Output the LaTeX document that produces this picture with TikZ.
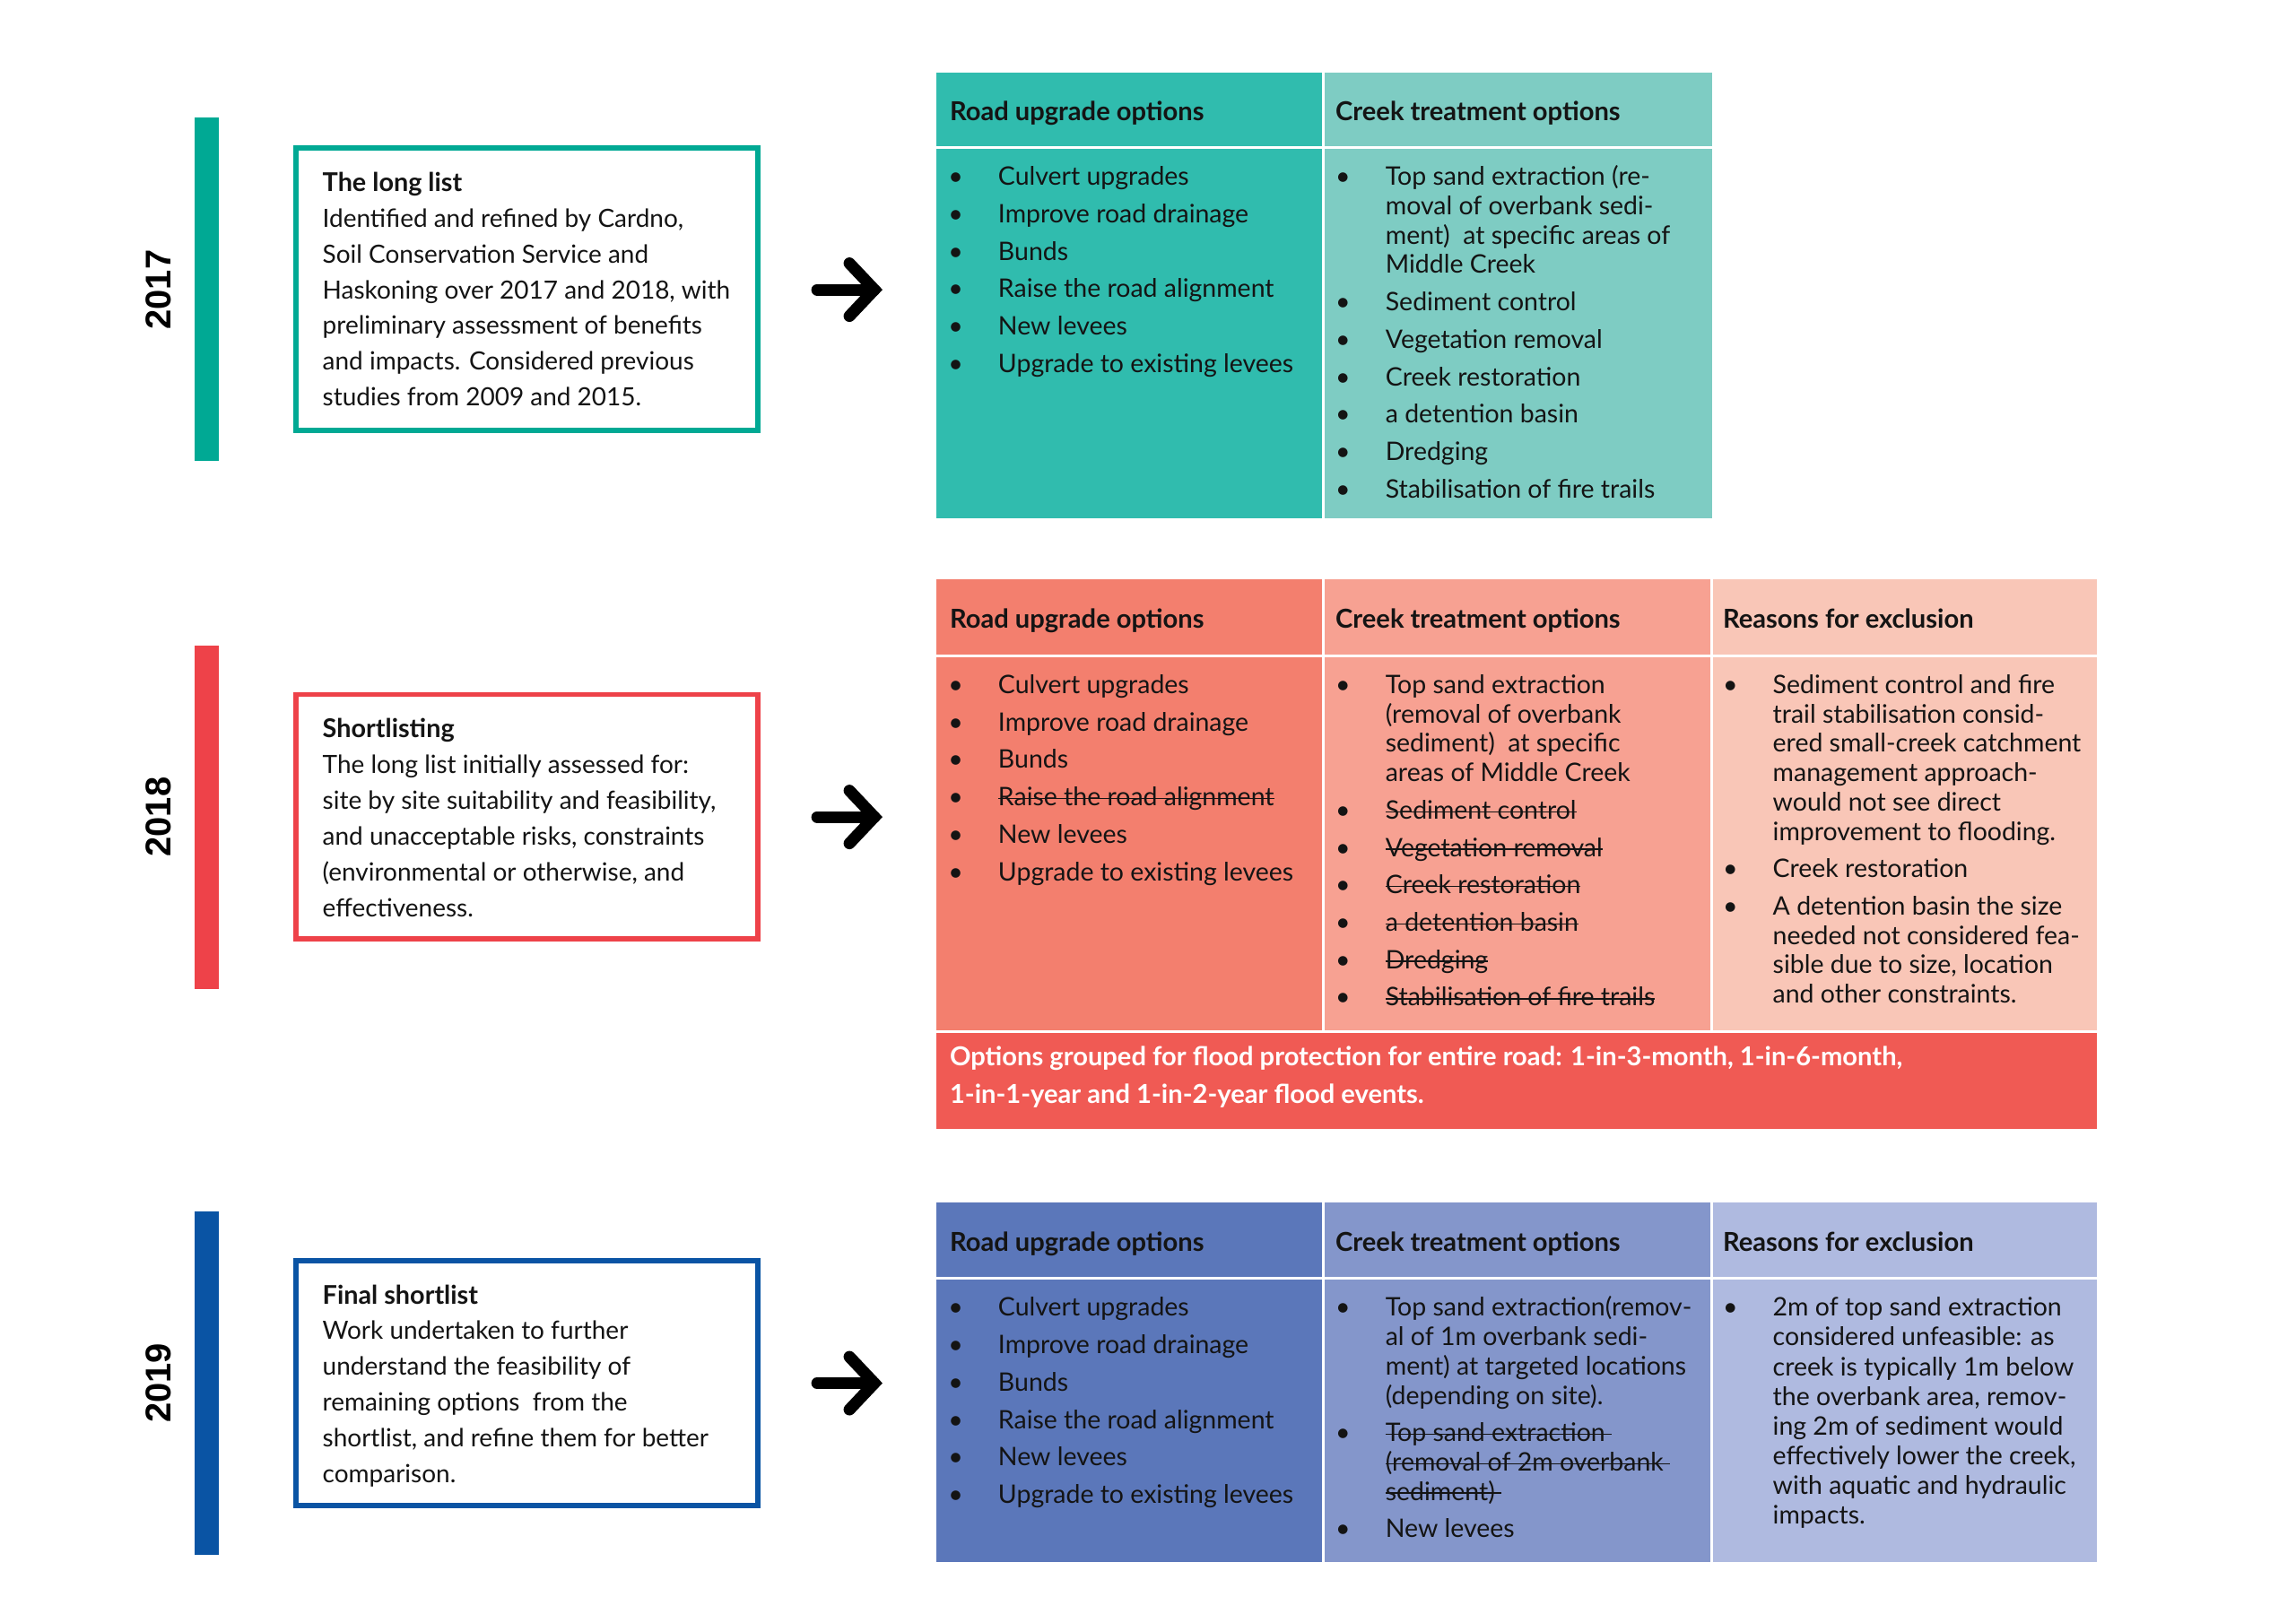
\documentclass[tikz,border=0pt]{standalone}
\usepackage{fontspec}
\setmainfont{Lato}
\newfontfamily\yearfont{Liberation Sans}

\definecolor{teal17}{HTML}{00A994}
\definecolor{road17}{HTML}{30BCAE}
\definecolor{creek17}{HTML}{7ECCC3}
\definecolor{red18}{HTML}{EE4249}
\definecolor{road18}{HTML}{F37F6E}
\definecolor{creek18}{HTML}{F7A192}
\definecolor{excl18}{HTML}{F9C6B7}
\definecolor{band18}{HTML}{F05A54}
\definecolor{blue19}{HTML}{0A54A4}
\definecolor{road19}{HTML}{5B77BA}
\definecolor{creek19}{HTML}{8496CB}
\definecolor{excl19}{HTML}{AFBAE0}
\definecolor{ink}{HTML}{141414}

\newcommand{\bul}{\makebox[17pt][l]{\textbullet}}
\newcommand{\ind}{\hspace*{17pt}}
\newcommand{\colstrut}{\rule{0pt}{8pt}}
\newcommand{\nextopt}{\\[2.75pt]}
\newcommand{\struck}[1]{\leavevmode\setbox0\hbox{#1}\rlap{\rule[0.26em]{\wd0}{0.45pt}}\box0}
\newcommand{\stagetitle}[1]{{\bfseries\fontsize{8.8}{12.2}\selectfont #1}}

\tikzset{
  optlist/.style={anchor=north west, inner sep=0pt, align=left, text=ink,
    font=\fontsize{8.7}{10}\selectfont},
  boxtext/.style={anchor=north west, inner sep=0pt, align=left, text=ink,
    font=\fontsize{8.55}{12.2}\selectfont},
  colhead/.style={anchor=base west, inner sep=0pt, text=ink,
    font=\bfseries\fontsize{8.9}{10}\selectfont},
  yearlabel/.style={rotate=90, inner sep=0pt, text=black,
    font=\yearfont\bfseries\fontsize{12.2}{14}\selectfont},
  stagebox/.style={draw=#1, line width=1.8pt, fill=white, inner sep=0pt,
    outer sep=0pt, anchor=north west, minimum width=157.5pt},
  bigarrow/.style={line width=4pt, line cap=round, line join=miter}
}

\begin{document}
\begin{tikzpicture}[x=0.5pt,y=-0.5pt]
\useasboundingbox (0,0) rectangle (1565,1106);

% ---- 2017 ----
\fill[teal17] (132.5,80) rectangle (149,314);
\node[yearlabel] (y17) at (108,197.5) {2017};
\node[stagebox=teal17, minimum height=96.25pt] (box17) at (201.5,101) {};
\node[boxtext] (t17) at (219.5,114) {\colstrut\stagetitle{The long list}\\
  Identified and refined by Cardno,\\
  Soil Conservation Service and\\
  Haskoning over 2017 and 2018, with\\
  preliminary assessment of benefits\\
  and impacts. Considered previous\\
  studies from 2009 and 2015.};
\coordinate (s17) at (557,197.5);
\coordinate (e17) at (596,197.5);
\draw[bigarrow] (s17) -- (e17);
\draw[bigarrow] (e17) ++(-17,-18) -- (e17) -- ++(-17,18);

\fill[road17] (638,49.5) rectangle (901,99.5);
\fill[creek17] (903,49.5) rectangle (1167,99.5);
\fill[road17] (638,101.5) rectangle (901,353.5);
\fill[creek17] (903,101.5) rectangle (1167,353.5);
\node[colhead] (h17r) at (647,82.5) {Road upgrade options};
\node[colhead] (h17c) at (910,82.5) {Creek treatment options};
\node[optlist] (l17r) at (646,110) {\colstrut\bul Culvert upgrades\nextopt
  \bul Improve road drainage\nextopt
  \bul Bunds\nextopt
  \bul Raise the road alignment\nextopt
  \bul New levees\nextopt
  \bul Upgrade to existing levees};
\node[optlist] (l17c) at (910,110) {\colstrut\bul Top sand extraction (re-\\
  \ind moval of overbank sedi-\\
  \ind ment)\ \ at specific areas of\\
  \ind Middle Creek\nextopt
  \bul Sediment control\nextopt
  \bul Vegetation removal\nextopt
  \bul Creek restoration\nextopt
  \bul a detention basin\nextopt
  \bul Dredging\nextopt
  \bul Stabilisation of fire trails};

% ---- 2018 ----
\fill[red18] (132.5,440) rectangle (149,674);
\node[yearlabel] (y18) at (108,557) {2018};
\node[stagebox=red18, minimum height=83.25pt] (box18) at (201.5,473.5) {};
\node[boxtext] (t18) at (219.5,486.5) {\colstrut\stagetitle{Shortlisting}\\
  The long list initially assessed for:\\
  site by site suitability and feasibility,\\
  and unacceptable risks, constraints\\
  (environmental or otherwise, and\\
  effectiveness.};
\coordinate (s18) at (557,557);
\coordinate (e18) at (596,557);
\draw[bigarrow] (s18) -- (e18);
\draw[bigarrow] (e18) ++(-17,-18) -- (e18) -- ++(-17,18);

\fill[road18] (638,395) rectangle (901,446);
\fill[creek18] (903,395) rectangle (1165.5,446);
\fill[excl18] (1167.5,395) rectangle (1429.5,446);
\fill[road18] (638,448) rectangle (901,702.5);
\fill[creek18] (903,448) rectangle (1165.5,702.5);
\fill[excl18] (1167.5,448) rectangle (1429.5,702.5);
\fill[band18] (638,704.5) rectangle (1429.5,769.5);
\node[colhead] (h18r) at (647,428) {Road upgrade options};
\node[colhead] (h18c) at (910,428) {Creek treatment options};
\node[colhead] (h18x) at (1174,428) {Reasons for exclusion};
\node[optlist] (l18r) at (646,456.5) {\colstrut\bul Culvert upgrades\nextopt
  \bul Improve road drainage\nextopt
  \bul Bunds\nextopt
  \bul \struck{Raise the road alignment}\nextopt
  \bul New levees\nextopt
  \bul Upgrade to existing levees};
\node[optlist] (l18c) at (910,456.5) {\colstrut\bul Top sand extraction\\
  \ind (removal of overbank\\
  \ind sediment)\ \ at specific\\
  \ind areas of Middle Creek\nextopt
  \bul \struck{Sediment control}\nextopt
  \bul \struck{Vegetation removal}\nextopt
  \bul \struck{Creek restoration}\nextopt
  \bul \struck{a detention basin}\nextopt
  \bul \struck{Dredging}\nextopt
  \bul \struck{Stabilisation of fire trails}};
\node[optlist] (l18x) at (1174,456.5) {\colstrut\bul Sediment control and fire\\
  \ind trail stabilisation consid-\\
  \ind ered small-creek catchment\\
  \ind management approach-\\
  \ind would not see direct\\
  \ind improvement to flooding.\nextopt
  \bul Creek restoration\nextopt
  \bul A detention basin the size\\
  \ind needed not considered fea-\\
  \ind sible due to size, location\\
  \ind and other constraints.};
\node[optlist, text=white, font=\bfseries\fontsize{8.9}{12.9}\selectfont]
  (band) at (647,710) {\colstrut Options grouped for flood protection for entire road: 1-in-3-month, 1-in-6-month,\\
  1-in-1-year and 1-in-2-year flood events.};

% ---- 2019 ----
\fill[blue19] (132.5,826) rectangle (149,1060);
\node[yearlabel] (y19) at (108,943) {2019};
\node[stagebox=blue19, minimum height=83.5pt] (box19) at (201.5,859.5) {};
\node[boxtext] (t19) at (219.5,872.5) {\colstrut\stagetitle{Final shortlist}\\
  Work undertaken to further\\
  understand the feasibility of\\
  remaining options\ \ from the\\
  shortlist, and refine them for better\\
  comparison.};
\coordinate (s19) at (557,943);
\coordinate (e19) at (596,943);
\draw[bigarrow] (s19) -- (e19);
\draw[bigarrow] (e19) ++(-17,-18) -- (e19) -- ++(-17,18);

\fill[road19] (638,820) rectangle (901,870.5);
\fill[creek19] (903,820) rectangle (1165.5,870.5);
\fill[excl19] (1167.5,820) rectangle (1429.5,870.5);
\fill[road19] (638,872.5) rectangle (901,1065);
\fill[creek19] (903,872.5) rectangle (1165.5,1065);
\fill[excl19] (1167.5,872.5) rectangle (1429.5,1065);
\node[colhead] (h19r) at (647,853) {Road upgrade options};
\node[colhead] (h19c) at (910,853) {Creek treatment options};
\node[colhead] (h19x) at (1174,853) {Reasons for exclusion};
\node[optlist] (l19r) at (646,881) {\colstrut\bul Culvert upgrades\nextopt
  \bul Improve road drainage\nextopt
  \bul Bunds\nextopt
  \bul Raise the road alignment\nextopt
  \bul New levees\nextopt
  \bul Upgrade to existing levees};
\node[optlist] (l19c) at (910,881) {\colstrut\bul Top sand extraction(remov-\\
  \ind al of 1m overbank sedi-\\
  \ind ment) at targeted locations\\
  \ind (depending on site).\nextopt
  \bul \struck{Top sand extraction\ }\\
  \ind \struck{(removal of 2m overbank\ }\\
  \ind \struck{sediment)\ }\nextopt
  \bul New levees};
\node[optlist, font=\fontsize{8.7}{10.1}\selectfont] (l19x) at (1174,881) {\colstrut\bul 2m of top sand extraction\\
  \ind considered unfeasible: as\\
  \ind creek is typically 1m below\\
  \ind the overbank area, remov-\\
  \ind ing 2m of sediment would\\
  \ind effectively lower the creek,\\
  \ind with aquatic and hydraulic\\
  \ind impacts.};
\end{tikzpicture}
\end{document}
